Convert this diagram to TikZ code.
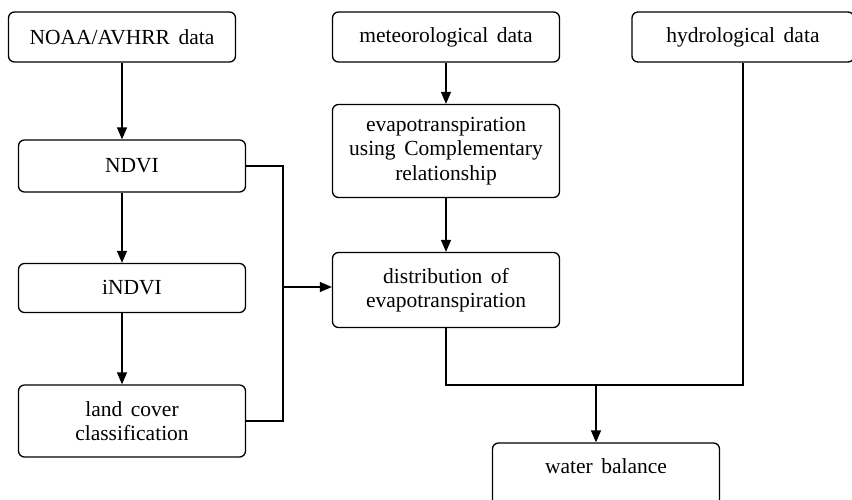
\documentclass[tikz,border=0pt]{standalone}
\usepackage{fontspec}
\setmainfont{Liberation Serif}
\usetikzlibrary{arrows.meta}

\newcommand{\boxfont}{\fontsize{21.5}{24.5}\selectfont\spaceskip=0.4em\relax}

\begin{document}
\begin{tikzpicture}[x=1pt, y=-1pt,
      >={Triangle[length=12pt,width=10pt]},
      box/.style={
        draw,
        rounded corners=6pt,
        line width=1.3pt,
        align=center,
        inner sep=0pt,
        minimum width=227pt,
        font=\boxfont
      },
      flow/.style={
        line width=1.3pt
      },
    ]

    \useasboundingbox (0, 0) rectangle (852, 499);

    % left column
    \node [box, minimum height=50pt] (noaa) at (122, 37) {NOAA/AVHRR data};
    \node [box, minimum height=52pt] (ndvi) at (132, 166) {NDVI};
    \node [box, minimum height=49pt] (indvi) at (132, 288) {iNDVI};
    \node [box, minimum height=72pt] (land) at (132, 421)
          {land cover\\classification};

    % middle column
    \node [box, minimum height=50pt] (meteo) at (446, 37) {meteorological data};
    \node [box, minimum height=93pt] (evap) at (446, 151)
          {evapotranspiration\\using Complementary\\relationship};
    \node [box, minimum height=75pt] (distr) at (446, 290)
          {distribution of\\evapotranspiration};

    % right column
    \node [box, minimum height=50pt, minimum width=222pt] (hydro) at (743, 37)
          {hydrological data};
    \node [box, minimum height=64pt, text depth=18pt] (water) at (606, 475)
          {water balance};

    \coordinate (merge) at (283, 287);
    \coordinate (sum) at (596, 385);

    \draw [flow, ->] (noaa.south) -- (noaa.south |- ndvi.north);
    \draw [flow, ->] (noaa.south |- ndvi.south) -- (noaa.south |- indvi.north);
    \draw [flow, ->] (noaa.south |- indvi.south) -- (noaa.south |- land.north);
    \draw [flow] (ndvi.east) -| (merge) |- (land.east);
    \draw [flow, ->] (merge) -- (merge -| distr.west);

    \draw [flow, ->] (meteo.south) -- (evap.north);
    \draw [flow, ->] (evap.south) -- (distr.north);
    \draw [flow] (distr.south) |- (sum) -| (hydro.south);
    \draw [flow, ->] (sum) -- (sum |- water.north);
\end{tikzpicture}
\end{document}
